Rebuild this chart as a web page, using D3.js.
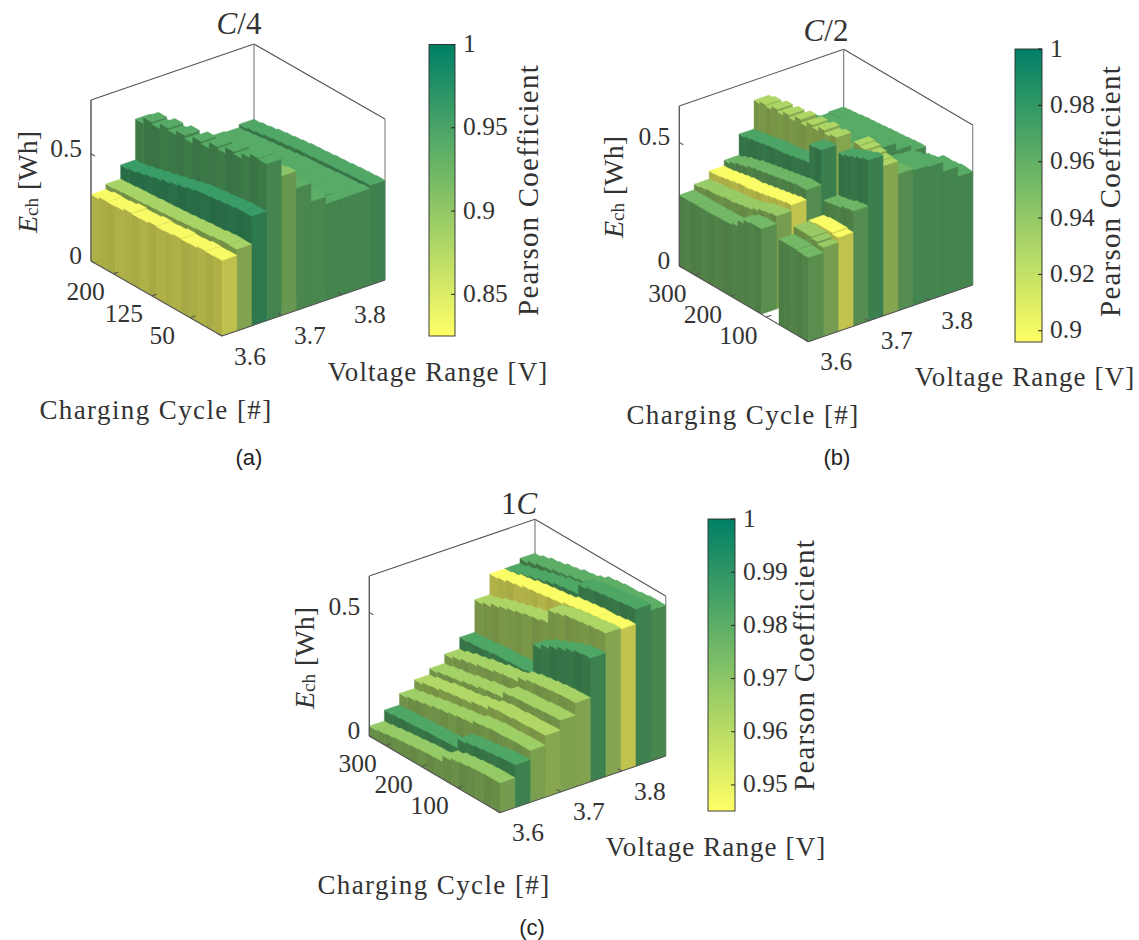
<!DOCTYPE html>
<html><head><meta charset="utf-8">
<script src="https://cdnjs.cloudflare.com/ajax/libs/d3/7.8.5/d3.min.js"></script>
<style>html,body{margin:0;background:#fff}svg{display:block}
text{font-family:'Liberation Serif','DejaVu Serif',serif;fill:#333}</style></head><body>
<script>
const voltages=[3.6,3.625,3.65,3.675,3.7,3.725,3.75,3.775,3.8,3.825,3.85];
// Energy [Wh] per voltage band (rows), per cycle bin from newest (front) to oldest (rear)
const energyA=[
[.352,.350,.352,.345,.342,.345,.338,.335,.338,.330,.328,.332,.322,.318,.320,.310],
[.380,.382,.378,.372,.370,.366,.362,.358,.355,.352,.350,.346,.344,.342,.338,.335],
[.510,.510,.505,.500,.495,.490,.485,.475,.465,.455,.445,.435,.425,.415,.405,.400],
[.730,.735,.715,.690,.700,.670,.680,.650,.660,.630,.645,.625,.635,.610,.620,.590],
[.650,.640,.630,.620,.610,.600,.595,.585,.575,.570,.560,.555,.545,.540,.530,.520],
[.570,.565,.555,.545,.540,.530,.525,.515,.510,.500,.495,.490,.480,.475,.465,.460],
[.484,.480,.475,.470,.465,.460,.455,.450,.445,.440,.435,.430,.425,.420,.415,.410],
[.450,.455,.450,.445,.445,.440,.435,.430,.430,.425,.420,.415,.415,.410,.405,.400],
[.450,.448,.445,.445,.440,.435,.435,.430,.425,.420,.415,.410,.405,.400,.395,.390],
[.450,.445,.442,.440,.435,.430,.428,.425,.420,.415,.410,.405,.400,.395,.390,.385],
[.465,.462,.460,.456,.452,.450,.446,.442,.440,.435,.430,.425,.420,.412,.406,.400]];
const energyB=[
[.340,.342,.345,.345,.345,null,null,null,.345,.345,.340,.325,.300,.292,.290,.290,.288,.288,.287,.288,.287,.287],
[.360,.370,.376,.376,.376,null,null,null,.376,.370,.365,.355,.345,.340,.335,.330,.330,.325,.320,.320,.315,.310],
[.380,.385,.385,.385,.380,null,null,null,.400,.395,.390,.385,.380,.375,.370,.365,.365,.360,.355,.350,.345,.343],
[.465,.460,.450,.445,.440,null,null,null,.440,.440,.435,.430,.425,.420,.415,.410,.405,.400,.390,.385,.375,.365],
[.650,.640,.630,.620,.610,null,null,null,.580,.575,.500,.495,.490,.485,.480,.478,.475,.470,.465,.460,.455,.450],
[.606,.610,.620,.630,.635,null,null,null,.610,.600,.612,.595,.605,.585,.600,.580,.590,.575,.585,.570,.575,.566],
[.553,.550,.545,.540,.535,null,null,null,.525,.520,.510,.505,.500,.495,.490,.480,.475,.470,.460,.455,.450,.440],
[.546,.540,.535,.530,.525,null,null,null,.510,.505,.495,.490,.485,.480,.475,.470,.460,.455,.450,.445,.440,.430],
[.540,.535,.530,.525,.520,null,null,null,.505,.500,.495,.490,.480,.475,.470,.465,.460,.450,.445,.440,.435,.430],
[.500,.495,.495,.490,.485,null,null,null,.475,.470,.465,.460,.455,.450,.445,.440,.435,.430,.425,.420,.415,.410],
[.460,.462,.458,.455,.455,null,null,null,.450,.448,.445,.442,.440,.438,.435,.432,.430,.428,.425,.420,.418,.415]];
const energyC=[
[.120,.120,.118,.115,.110,.105,.095,.070,.068,.066,.062,.058,.055,.050,.045,.040],
[.172,.170,.165,.160,.155,.150,.142,.104,.102,.100,.098,.095,.092,.090,.087,.084],
[.210,.210,.208,.205,.205,.200,.195,.182,.178,.172,.165,.160,.152,.145,.138,.130],
[.250,.248,.245,.245,.240,.240,.235,.220,.215,.205,.200,.195,.190,.180,.175,.165],
[.290,.288,.285,.280,.278,.275,.270,.245,.240,.235,.225,.220,.210,.205,.198,.190],
[.340,.338,.335,.330,.325,.320,.310,.290,.285,.280,.270,.265,.255,.248,.238,.227],
[.500,.495,.485,.470,.455,.440,.420,.300,.295,.295,.290,.290,.285,.280,.278,.274],
[.580,.575,.570,.565,.560,.550,.540,.485,.475,.470,.460,.450,.440,.430,.415,.405],
[.575,.570,.565,.565,.560,.555,.550,.540,.535,.530,.525,.520,.510,.505,.495,.489],
[.635,.630,.625,.620,.615,.610,.600,.560,.555,.550,.540,.530,.520,.510,.500,.490],
[.610,.610,.605,.600,.600,.595,.590,.575,.565,.560,.550,.545,.535,.530,.520,.510]];
// Pearson coefficient per voltage band
const pearsonA=[.830,.885,.960,.940,.905,.935,.935,.940,.940,.940,.945];
const pearsonB=[.953,.938,.898,.955,.969,.929,.955,.964,.964,.964,.964];
const pearsonC=[.968,.983,.966,.962,.965,.964,.983,.963,.946,.983,.980];
// small wall brightness differences between neighbouring cycle bins
const wallTone=[1,.97,1.01,.98,.96,1.01,.98,1,.96,1.01,.97,.99,1.01,.96,.98,1,.97,1.01,.98,.96,1,.98];
const colorTicksA=[.85,.9,.95,1], colorTicksB=[.9,.92,.94,.96,.98,1], colorTicksC=[.95,.96,.97,.98,.99,1];
const cycleTicksA=[50,125,200], cycleTicksBC=[100,200,300];
const voltTicks=[3.6,3.7,3.8], energyTicks=[0,.5];

const panels=[
 {tag:'(a)',tagPos:[249,457],title:['C','/4',''],titlePos:[239,23],energy:energyA,pearson:pearsonA,
  cTicks:colorTicksA,cMin:.825,cycTicks:cycleTicksA,cycStart:-12,cycStep:16,zMax:.75,
  front:[222,336],left:[91,261],right:[385,280],zPx:161,
  bar:[429,455,44.5,336],cLabel:[528,190],eLabel:[27,182],vLabel:[438,372],cyLabel:[156,410]},
 {tag:'(b)',tagPos:[837,457],title:['C','/2',''],titlePos:[826,30],energy:energyB,pearson:pearsonB,
  cTicks:colorTicksB,cMin:.896,cycTicks:cycleTicksBC,cycStart:-18,cycStep:16.5,zMax:.647,
  front:[808.3,341.7],left:[679.3,266],right:[972.7,285],zPx:160,
  bar:[1015,1042,49,342],cLabel:[1110,191],eLabel:[613,187],vLabel:[1025,377],cyLabel:[743,415]},
 {tag:'(c)',tagPos:[532,927],title:['','1','C'],titlePos:[519,503],energy:energyC,pearson:pearsonC,
  cTicks:colorTicksC,cMin:.9451,cycTicks:cycleTicksBC,cycStart:-18,cycStep:22.7,zMax:.647,
  front:[500,812.7],left:[369.3,736],right:[665.7,756],zPx:160,
  bar:[708,735,519,811],cLabel:[804,665],eLabel:[304,658],vLabel:[716,847],cyLabel:[434,885]}
];
const svg=d3.select('body').append('svg').attr('width',1139).attr('height',940);
const summer=d3.scaleLinear().domain([0,1]).range(['#ffff66','#007f66']);
const axisCol='#555';

panels.forEach((P,pi)=>{
  const g=svg.append('g');
  const nCols=P.energy[0].length;
  const cycles=d3.range(nCols).map(i=>P.cycStart+i*P.cycStep);
  const xBand=d3.scaleBand().domain(voltages).range([0,1]);
  const xLin=d3.scaleLinear().domain([3.6,3.872]).range([0,1]);
  const yLin=d3.scaleLinear().domain([P.cycStart,P.cycStart+nCols*P.cycStep]).range([0,1]);
  const zLin=d3.scaleLinear().domain([0,P.zMax]).range([0,P.zPx]);
  const color=d3.scaleLinear().domain([P.cMin,1]).range([0,1]);
  const proj=(x,y,h)=>[
    P.front[0]+x*(P.right[0]-P.front[0])+y*(P.left[0]-P.front[0]),
    P.front[1]+x*(P.right[1]-P.front[1])+y*(P.left[1]-P.front[1])-zLin(h)];
  const path=pts=>'M'+pts.map(p=>p[0].toFixed(2)+','+p[1].toFixed(2)).join('L')+'Z';
  const line=(a,b,c=axisCol,w=1.1)=>g.append('line').attr('x1',a[0]).attr('y1',a[1]).attr('x2',b[0]).attr('y2',b[1]).attr('stroke',c).attr('stroke-width',w);

  // back box
  const zm=P.zMax;
  line(proj(0,1,0),proj(0,1,zm),'#8a8a8a',1.2);
  line(proj(0,1,zm),proj(1,1,zm));
  line(proj(1,1,zm),proj(1,0,zm));
  line(proj(1,1,0),proj(1,1,zm),'#777',1.1);
  line(proj(1,0,0),proj(1,0,zm),'#8a8a8a',1.2);

  // bars, back to front
  const cells=[];
  d3.range(voltages.length).reverse().forEach(i=>{
    d3.range(nCols).reverse().forEach(j=>{
      const h=P.energy[i][j];
      if(h===null) return;
      cells.push({i,j,h,c:summer(color(P.pearson[i]))});
    });
  });
  const shade=(c,f)=>{const r=d3.rgb(c);return d3.rgb(r.r*f,r.g*f,r.b*f).formatHex();};
  const bars=g.append('g').selectAll('g').data(cells).join('g');
  const faces=[
   {f:d=>.70*wallTone[d.j],pts:d=>{const x0=xBand(voltages[d.i]),y0=yLin(cycles[d.j]),y1=y0+yLin(cycles[0]+P.cycStep);
      return [proj(x0,y0,0),proj(x0,y1,0),proj(x0,y1,d.h),proj(x0,y0,d.h)];}},
   {f:d=>.77,pts:d=>{const x0=xBand(voltages[d.i]),x1=x0+xBand.bandwidth(),y0=yLin(cycles[d.j]);
      return [proj(x0,y0,0),proj(x1,y0,0),proj(x1,y0,d.h),proj(x0,y0,d.h)];}},
   {f:d=>1,pts:d=>{const x0=xBand(voltages[d.i]),x1=x0+xBand.bandwidth(),y0=yLin(cycles[d.j]),y1=y0+yLin(cycles[0]+P.cycStep);
      return [proj(x0,y0,d.h),proj(x1,y0,d.h),proj(x1,y1,d.h),proj(x0,y1,d.h)];}}];
  faces.forEach(F=>{
    bars.append('path').attr('d',d=>path(F.pts(d))).attr('fill',d=>shade(d.c,F.f(d)))
      .attr('stroke',d=>shade(d.c,F.f(d))).attr('stroke-width',.4);
  });

  // front axes
  line(proj(0,1,zm),proj(0,1,0));
  line(proj(0,0,0),proj(0,1,0));
  line(proj(0,0,0),proj(1,0,0));

  const fs=25.5;
  const label=(t,x,y,anchor='middle',size=fs)=>g.append('text').attr('x',x).attr('y',y).attr('text-anchor',anchor)
     .attr('dominant-baseline','central').attr('font-size',size).text(t);
  energyTicks.forEach(v=>{
    const a=proj(0,1,v); line(a,[a[0]+4,a[1]+2.4]);
    label(String(v),a[0]-9,a[1]-5.5,'end');
  });
  P.cycTicks.forEach(v=>{
    const a=proj(0,yLin(v),0); line(a,[a[0]+5,a[1]-1.8]);
    label(String(v),a[0]-28,a[1]+18);
  });
  voltTicks.forEach(v=>{
    const a=proj(xLin(v),0,0); line(a,[a[0]-4,a[1]-2.4]);
    label(v.toFixed(1),a[0]+28,a[1]+20);
  });
  label('Voltage Range [V]',P.vLabel[0],P.vLabel[1],'middle',27).attr('letter-spacing',1.1);
  label('Charging Cycle [#]',P.cyLabel[0],P.cyLabel[1],'middle',27).attr('letter-spacing',1.4);

  // energy label
  const el=g.append('text').attr('transform',`translate(${P.eLabel[0]},${P.eLabel[1]}) rotate(-90)`)
     .attr('text-anchor','middle').attr('dominant-baseline','central').attr('font-size',28);
  el.append('tspan').attr('font-style','italic').text('E');
  el.append('tspan').attr('font-size',19).attr('dy',4).text('ch');
  el.append('tspan').attr('dy',-4).attr('dx',8).text('[Wh]');

  // title
  const tt=g.append('text').attr('x',P.titlePos[0]).attr('y',P.titlePos[1]).attr('text-anchor','middle')
     .attr('dominant-baseline','central').attr('font-size',31);
  tt.append('tspan').attr('font-style',P.title[0]?'italic':null).text(P.title[0]);
  tt.append('tspan').text(P.title[1]);
  tt.append('tspan').attr('font-style','italic').text(P.title[2]);

  // tag
  g.append('text').attr('x',P.tagPos[0]).attr('y',P.tagPos[1]).attr('text-anchor','middle').attr('dominant-baseline','central')
     .attr('font-size',22).style('font-family',"'Liberation Sans',Arial,sans-serif").style('fill','#222').text(P.tag);

  // colorbar
  const [bx0,bx1,by0,by1]=P.bar;
  const gid='cb'+pi;
  const grad=svg.append('defs').append('linearGradient').attr('id',gid).attr('x1',0).attr('y1',1).attr('x2',0).attr('y2',0);
  grad.append('stop').attr('offset',0).attr('stop-color','#ffff66');
  grad.append('stop').attr('offset',1).attr('stop-color','#007f66');
  g.append('rect').attr('x',bx0).attr('y',by0).attr('width',bx1-bx0).attr('height',by1-by0)
    .attr('fill',`url(#${gid})`).attr('stroke','#2a2a2a').attr('stroke-width',.9);
  const cy=d3.scaleLinear().domain([P.cMin,1]).range([by1,by0]);
  P.cTicks.forEach(v=>{
    line([bx1-4,cy(v)],[bx1,cy(v)],'#222',1);
    label(String(v),bx1+8,cy(v)-1,'start',25.5);
  });
  g.append('text').attr('transform',`translate(${P.cLabel[0]},${P.cLabel[1]}) rotate(-90)`)
    .attr('text-anchor','middle').attr('dominant-baseline','central').attr('font-size',29).attr('letter-spacing',1.2).text('Pearson Coefficient');
});
</script></body></html>
